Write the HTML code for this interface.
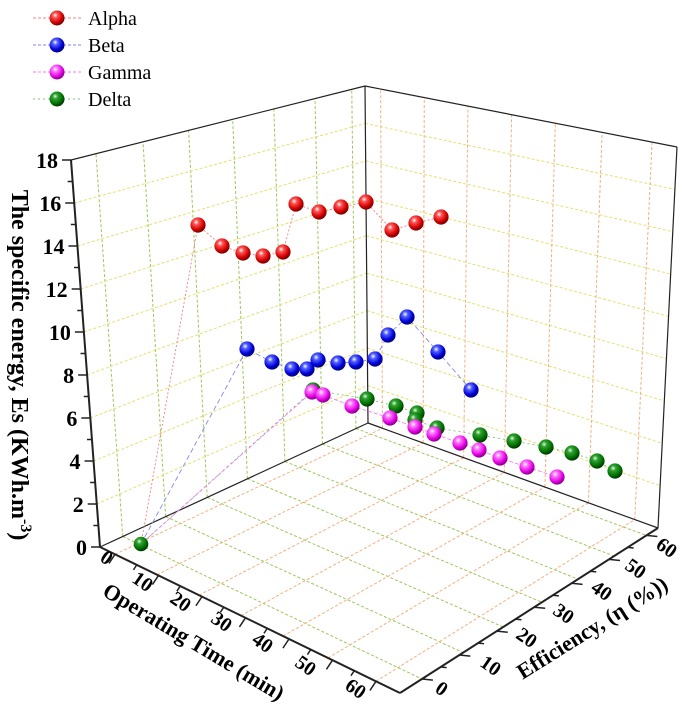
<!DOCTYPE html>
<html><head><meta charset="utf-8"><style>
html,body{margin:0;padding:0;background:#fff;}
svg{display:block;}
text{font-family:"Liberation Serif",serif;}
</style></head><body>
<svg id="s" width="685" height="708" viewBox="0 0 685 708" xmlns="http://www.w3.org/2000/svg">
<defs>
<radialGradient id="gr" cx="0.38" cy="0.32" r="0.7"><stop offset="0" stop-color="#fff"/><stop offset="0.25" stop-color="#ff5050"/><stop offset="0.7" stop-color="#d00000"/><stop offset="1" stop-color="#700000"/></radialGradient>
<radialGradient id="gb" cx="0.38" cy="0.32" r="0.7"><stop offset="0" stop-color="#fff"/><stop offset="0.25" stop-color="#5060ff"/><stop offset="0.7" stop-color="#0000d8"/><stop offset="1" stop-color="#000070"/></radialGradient>
<radialGradient id="gm" cx="0.38" cy="0.32" r="0.7"><stop offset="0" stop-color="#fff"/><stop offset="0.25" stop-color="#ff70ff"/><stop offset="0.7" stop-color="#e000e0"/><stop offset="1" stop-color="#800080"/></radialGradient>
<radialGradient id="gg" cx="0.38" cy="0.32" r="0.7"><stop offset="0" stop-color="#e0ffe0"/><stop offset="0.25" stop-color="#30a030"/><stop offset="0.7" stop-color="#007000"/><stop offset="1" stop-color="#003000"/></radialGradient>
</defs>
<g id="grid"></g>
<g id="frame"></g>
<g id="data"></g>
<!-- legend -->
<g font-size="20">
<line x1="33" y1="18" x2="82" y2="18" stroke="#f08080" stroke-dasharray="3,2"/><circle cx="57" cy="18" r="7.5" fill="url(#gr)"/><text x="88" y="25">Alpha</text>
<line x1="33" y1="45" x2="82" y2="45" stroke="#8080f0" stroke-dasharray="3,2"/><circle cx="57" cy="45" r="7.5" fill="url(#gb)"/><text x="88" y="52">Beta</text>
<line x1="33" y1="72" x2="82" y2="72" stroke="#f080f0" stroke-dasharray="3,2"/><circle cx="57" cy="72" r="7.5" fill="url(#gm)"/><text x="88" y="79">Gamma</text>
<line x1="33" y1="99" x2="82" y2="99" stroke="#80c080" stroke-dasharray="2,3"/><circle cx="57" cy="99" r="7.5" fill="url(#gg)"/><text x="88" y="106">Delta</text>
</g>
<!-- z axis labels -->
<g font-size="22" font-weight="bold" text-anchor="end" id="zl"></g>
<text transform="translate(12,365) rotate(90)" text-anchor="middle" font-size="24" font-weight="bold">The specific energy, Es (KWh.m<tspan dy="-9" font-size="16">-3</tspan><tspan dy="9">)</tspan></text>
<!-- time labels -->
<g font-size="20" font-weight="bold" text-anchor="middle">
<text transform="translate(103,563) rotate(35)">0</text>
<text transform="translate(139,587) rotate(35)">10</text>
<text transform="translate(177,607) rotate(35)">20</text>
<text transform="translate(218,627) rotate(35)">30</text>
<text transform="translate(259,648) rotate(35)">40</text>
<text transform="translate(302,671) rotate(35)">50</text>
<text transform="translate(352,694) rotate(35)">60</text>
<text transform="translate(438,694) rotate(35)">0</text>
<text transform="translate(487,671) rotate(35)">10</text>
<text transform="translate(523,643) rotate(35)">20</text>
<text transform="translate(560,619) rotate(35)">30</text>
<text transform="translate(598,596) rotate(35)">40</text>
<text transform="translate(632,574) rotate(35)">50</text>
<text transform="translate(663,553) rotate(35)">60</text>
</g>
<text transform="translate(190,648) rotate(31)" text-anchor="middle" font-size="22" font-weight="bold">Operating Time (min)</text>
<text transform="translate(596,634) rotate(-32)" text-anchor="middle" font-size="22" font-weight="bold">Efficiency, (η (%))</text>
<script>
(function(){
var NS="http://www.w3.org/2000/svg";
function el(p,n,a){var e=document.createElementNS(NS,n);for(var k in a)e.setAttribute(k,a[k]);p.appendChild(e);return e;}
var LF=[100,547],F=[400,693],R=[658,528],B=[368,423];
var VLF=[-29,-387],VB=[-3,-337],VR=[19,-381],VF=[-8,-431];
function P(u,v,w){var a=(1-u)*(1-v),b=u*(1-v),c=u*v,d=(1-u)*v;
 var x=a*LF[0]+b*F[0]+c*R[0]+d*B[0], y=a*LF[1]+b*F[1]+c*R[1]+d*B[1];
 x+=w*(a*VLF[0]+b*VF[0]+c*VR[0]+d*VB[0]); y+=w*(a*VLF[1]+b*VF[1]+c*VR[1]+d*VB[1]);return [x,y];}
var tf=[.05,.19,.33,.47,.61,.76,.92], ef=[.085,.245,.40,.55,.69,.83,.955];
var g=document.getElementById('grid');
var GR="#9cc85a",OR="#f2b080",YE="#e6e070";
function L(p,q,c,d){el(g,'line',{x1:p[0],y1:p[1],x2:q[0],y2:q[1],stroke:c,'stroke-width':1,'stroke-dasharray':d||'3,2'});}
ef.forEach(function(v){L(P(0,v,0),P(1,v,0),GR);});
tf.forEach(function(u){L(P(u,0,0),P(u,1,0),OR);});
ef.forEach(function(v){L(P(0,v,0),P(0,v,1),GR);});
for(var z=2;z<=16;z+=2){L(P(0,0,z/18),P(0,1,z/18),YE);L(P(0,1,z/18),P(1,1,z/18),YE);}
tf.forEach(function(u){L(P(u,1,0),P(u,1,1),OR);});
var f=document.getElementById('frame');
function K(p,q,w){el(f,'line',{x1:p[0],y1:p[1],x2:q[0],y2:q[1],stroke:'#222','stroke-width':w||1.2});}
K(P(0,0,0),P(0,0,1),2);K(P(0,0,1),P(0,1,1));K(P(0,1,1),P(1,1,1));K(P(0,1,0),P(0,1,1));K(P(1,1,0),P(1,1,1));
K(P(0,0,0),P(0,1,0));K(P(0,1,0),P(1,1,0));K(P(0,0,0),P(1,0,0),2);K(P(1,0,0),P(1,1,0),2);
var zl=document.getElementById('zl');
for(var z=0;z<=18;z++){var p=P(0,0,z/18),len=(z%2?5:9);K(p,[p[0]-len,p[1]],1.5);
 if(z%2==0){var t=el(zl,'text',{x:p[0]-13,y:p[1]+8});t.textContent=z;}}
for(var i=0;i<=12;i++){var u=.05+(.92-.05)*i/12;var p=P(u,0,0),len=(i%2?6:11);K(p,[p[0]-len*0.55,p[1]+len*0.83],1.5);}
for(var i=0;i<=12;i++){var v=.085+(.955-.085)*i/12;var p=P(1,v,0),len=(i%2?6:11);K(p,[p[0]+len,p[1]+len*0.1],1.5);}
var d=document.getElementById('data');
var S=[141,544];
var series=[
 ['#f08080','gr','2,2',[[198,225],[222,246],[243,253],[263,256],[283,252],[296,204],[319,212],[341,207],[366,202],[392,230],[416,223],[441,217]]],
 ['#8888f0','gb','5,3',[[247,349],[272,362],[292,369],[307,369],[318,360],[338,363],[356,362],[375,359],[388,335],[407,317],[438,352],[471,390]]],
 ['#80c080','gg','2,3',[[313,390],[367,399],[396,406],[417,413],[415,420],[437,428],[480,435],[514,441],[546,447],[572,453],[597,461],[615,471]]],
 ['#f080f0','gm','4,2',[[312,392],[323,395],[352,406],[390,418],[415,427],[434,434],[460,443],[479,450],[500,458],[527,467],[557,477]]]
];
series.forEach(function(s){var pts=[S].concat(s[3]);el(d,'polyline',{points:pts.map(function(p){return p.join(',')}).join(' '),fill:'none',stroke:s[0],'stroke-width':0.9,'stroke-dasharray':s[2]});});
el(d,'circle',{cx:S[0],cy:S[1],r:7.3,fill:'url(#gg)'});
series.forEach(function(s){s[3].forEach(function(p){el(d,'circle',{cx:p[0],cy:p[1],r:7.6,fill:'url(#'+s[1]+')'});});});
})();
</script>
</svg>
</body></html>
